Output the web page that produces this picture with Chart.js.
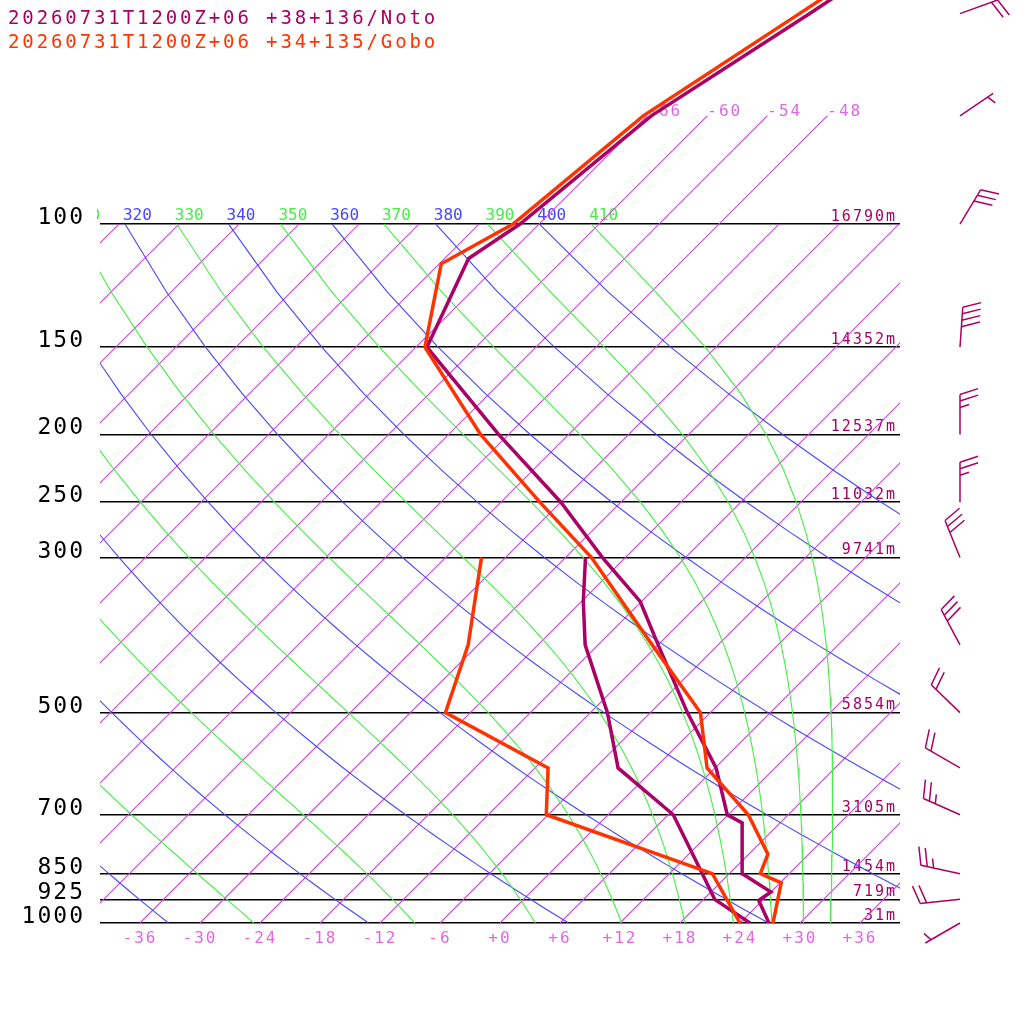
<!DOCTYPE html>
<html>
<head>
<meta charset="utf-8">
<script src="https://cdn.jsdelivr.net/npm/chart.js@4.4.1/dist/chart.umd.min.js"></script>
<style>
  html, body { margin: 0; padding: 0; background: #fff; }
  canvas { display: block; }
</style>
</head>
<body>
<canvas id="skewt" width="1024" height="1024"></canvas>
<script>
// header lines
const titles = ["20260731T1200Z+06 +38+136/Noto", "20260731T1200Z+06 +34+135/Gobo"];

// pressure levels drawn as horizontal lines, with heights (Noto)
const pressureLevels = [100, 150, 200, 250, 300, 500, 700, 850, 925, 1000];
const heightLabels = ["16790m", "14352m", "12537m", "11032m", "9741m", "5854m", "3105m", "1454m", "719m", "31m"];
const tempTicks = [-36, -30, -24, -18, -12, -6, 0, 6, 12, 18, 24, 30, 36];

// background lines of the diagram
const isotherms = [-108, -102, -96, -90, -84, -78, -72, -66, -60, -54, -48, -42, -36, -30, -24, -18, -12, -6, 0, 6, 12, 18, 24, 30, 36];
const isothermsHigh = [-66, -60, -54, -48];
const dryThetas = [240, 260, 280, 300, 320, 340, 360, 380, 400];
const moistThetas = [250, 270, 290, 310, 330, 350, 370, 390, 410];

// Noto sounding
const notoP  = [1000, 928, 903, 850, 719, 700, 600, 500, 400, 347, 300, 250, 200, 150, 112, 100, 70, 50, 30];
const notoT  = [26.9, 23.6, 24.0, 19.3, 14.2, 11.9, 6.1, -2.3, -12.0, -18.1, -26.3, -36.0, -49.0, -64.9, -69.6, -67.9, -65.6, -60.0, -52.0];
const notoDP = [1000, 925, 850, 700, 600, 500, 400, 347, 300];
const notoTd = [25.0, 19.1, 15.3, 6.5, -3.7, -10.3, -19.3, -23.8, -28.0];

// Gobo sounding
const goboP  = [1000, 876, 850, 797, 700, 600, 500, 400, 300, 250, 200, 150, 114, 100, 70, 50, 30];
const goboT  = [27.3, 24.1, 21.1, 19.9, 14.0, 5.2, -1.0, -12.6, -27.4, -38.1, -50.8, -65.1, -71.8, -68.6, -66.4, -61.0, -53.0];
const goboDP = [1000, 850, 700, 600, 500, 400, 300];
const goboTd = [24.0, 16.3, -6.2, -10.7, -26.5, -31.0, -38.4];

// Noto winds (direction deg, speed kt)
const windP   = [50, 70, 100, 150, 200, 250, 300, 400, 500, 600, 700, 850, 925, 1000];
const windDir = [70, 56, 31, 4, 0, 0, 338, 332, 314, 300, 294, 282, 264, 240];
const windKt  = [20, 5, 30, 40, 25, 25, 30, 30, 20, 20, 25, 25, 20, 5];

const NOTO = '#aa0066', GOBO = '#ff3300';
const ISO = '#cc44dd', ISO_TEXT = '#e066e6', DRY = '#4646ff', MOIST = '#44ee44';
const MONO = '"DejaVu Sans Mono", monospace';
const SKEW = 69.9;      // deg C per decade of pressure
const P_TOP = 47.8;
const KAPPA = 0.2857;

function skewX(t, p) {
    return t + SKEW * Math.log10(1000 / p);
}
function toPoints(ps, ts) {
    return ps.map((p, i) => ({ x: skewX(ts[i], p), y: p }));
}

// sampling of the guide curves
const guideP = [];
for (let p = 1000; p >= 100; p -= 25) guideP.push(p);

function dryLine(theta) {
    return guideP.map(p => ({ x: skewX(theta * Math.pow(p / 1000, KAPPA) - 273.15, p), y: p }));
}

function dTdp(p, T) {
    const Tc = T - 273.15;
    const es = 6.112 * Math.exp(17.67 * Tc / (Tc + 243.5));
    const rs = 0.622 * es / (p - es);
    const Rd = 287.04, cp = 1005.7, Lv = 2.501e6;
    const num = Rd * T + Lv * rs;
    const den = cp + (Lv * Lv * rs * 0.622) / (Rd * T * T);
    return num / den / p;
}

function moistLine(theta) {
    let T = theta * Math.pow(0.1, KAPPA);
    let p = 100;
    const dp = 5;
    const pts = [{ x: skewX(T - 273.15, p), y: p }];
    while (p < 1000) {
        const k1 = dTdp(p, T);
        const k2 = dTdp(p + dp / 2, T + k1 * dp / 2);
        const k3 = dTdp(p + dp / 2, T + k2 * dp / 2);
        const k4 = dTdp(p + dp, T + k3 * dp);
        T += dp * (k1 + 2 * k2 + 2 * k3 + k4) / 6;
        p += dp;
        if (p % 25 === 0) pts.push({ x: skewX(T - 273.15, p), y: p });
    }
    return pts;
}

const line = (data, color, width) => ({
    data, borderColor: color, borderWidth: width,
    showLine: true, pointRadius: 0, fill: false, tension: 0
});

const datasets = [
    line(toPoints(goboP, goboT), GOBO, 3.5),
    line(toPoints(notoP, notoT), NOTO, 3.5),
    line(toPoints(goboDP, goboTd), GOBO, 3.5),
    line(toPoints(notoDP, notoTd), NOTO, 3.5)
];
moistThetas.forEach(th => datasets.push(line(moistLine(th), MOIST, 1.1)));
dryThetas.forEach(th => datasets.push(line(dryLine(th), DRY, 1.1)));
isotherms.forEach(t => {
    const top = isothermsHigh.includes(t) ? 70 : 100;
    datasets.push(line([{ x: skewX(t, 1000), y: 1000 }, { x: skewX(t, top), y: top }], ISO, 1.1));
});

function drawBarb(ctx, x, y, dir, kt) {
    const a = dir * Math.PI / 180, b = (dir + 72) * Math.PI / 180;
    const sx = Math.sin(a), sy = -Math.cos(a);
    const bx = Math.sin(b), by = -Math.cos(b);
    const tx = x + sx * 40, ty = y + sy * 40;
    ctx.beginPath();
    ctx.moveTo(x, y);
    ctx.lineTo(tx, ty);
    const n = Math.round(kt / 5);
    const full = Math.floor(n / 2), half = n % 2;
    let d = full === 0 ? 6.5 : 0;
    for (let i = 0; i < full; i++, d += 6.5) {
        ctx.moveTo(tx - sx * d, ty - sy * d);
        ctx.lineTo(tx - sx * d + bx * 19, ty - sy * d + by * 19);
    }
    if (half) {
        ctx.moveTo(tx - sx * d, ty - sy * d);
        ctx.lineTo(tx - sx * d + bx * 9.5, ty - sy * d + by * 9.5);
    }
    ctx.stroke();
}

const skewDecor = {
    id: 'skewDecor',
    beforeDraw(chart) {
        chart.ctx.letterSpacing = '2px';
    },
    beforeDatasetsDraw(chart) {
        const { ctx, chartArea, scales: { x, y } } = chart;
        const y100 = y.getPixelForValue(100);
        ctx.save();
        ctx.beginPath();
        ctx.rect(chartArea.left - 3, 0, chartArea.right, chart.height);
        ctx.clip();
        ctx.font = '16px ' + MONO;
        ctx.letterSpacing = '0px';
        ctx.textAlign = 'left';
        ctx.textBaseline = 'alphabetic';
        const label = (th, color) => {
            const px = x.getPixelForValue(skewX(th * Math.pow(0.1, KAPPA) - 273.15, 100));
            if (px > chartArea.right) return;
            ctx.fillStyle = color;
            ctx.fillText(String(th), px - 2, y100 - 4);
        };
        dryThetas.forEach(th => label(th, DRY));
        moistThetas.forEach(th => label(th, MOIST));
        ctx.restore();

        ctx.save();
        ctx.font = '16px ' + MONO;
        ctx.letterSpacing = '2px';
        ctx.fillStyle = ISO_TEXT;
        ctx.textAlign = 'left';
        ctx.textBaseline = 'alphabetic';
        isothermsHigh.forEach(t => {
            ctx.fillText(String(t), x.getPixelForValue(skewX(t, 70)), y.getPixelForValue(70));
        });
        ctx.restore();
    },
    afterDraw(chart) {
        const { ctx, chartArea, scales: { y } } = chart;
        ctx.save();
        ctx.font = '19px ' + MONO;
        ctx.letterSpacing = '2.9px';
        ctx.textAlign = 'left';
        ctx.textBaseline = 'alphabetic';
        ctx.fillStyle = NOTO;
        ctx.fillText(titles[0], 8, 24);
        ctx.fillStyle = GOBO;
        ctx.fillText(titles[1], 8, 48);

        ctx.strokeStyle = NOTO;
        ctx.lineWidth = 1.5;
        const bx = chartArea.right + 60;
        windP.forEach((p, i) => drawBarb(ctx, bx, y.getPixelForValue(p), windDir[i], windKt[i]));
        ctx.restore();
    }
};

const noPad = s => { s.paddingTop = 0; s.paddingBottom = 0; s.paddingLeft = 0; s.paddingRight = 0; };

new Chart(document.getElementById('skewt').getContext('2d'), {
    type: 'scatter',
    data: { datasets },
    options: {
        responsive: false,
        animation: false,
        devicePixelRatio: 1,
        events: [],
        layout: { padding: 0 },
        plugins: { legend: { display: false }, tooltip: { enabled: false } },
        scales: {
            x: {
                type: 'linear', position: 'bottom', min: -40, max: 40,
                afterBuildTicks: s => { s.ticks = tempTicks.map(v => ({ value: v })); },
                afterFit: s => { s.height = 101; noPad(s); },
                grid: { display: false, drawTicks: false },
                border: { display: false },
                ticks: {
                    autoSkip: false, maxRotation: 0, padding: 6, color: ISO_TEXT,
                    font: { family: MONO, size: 16 },
                    callback: v => (v >= 0 ? '+' : '') + v
                }
            },
            y: {
                type: 'logarithmic', position: 'left', reverse: true, min: P_TOP, max: 1000,
                afterBuildTicks: s => { s.ticks = pressureLevels.map(v => ({ value: v })); },
                afterFit: s => { s.width = 100; noPad(s); },
                grid: { color: '#000', lineWidth: 1.5, drawTicks: false },
                border: { display: false },
                ticks: {
                    autoSkip: false, padding: 15, labelOffset: -6, color: '#000',
                    font: { family: MONO, size: 23 },
                    callback: v => String(v)
                }
            },
            yh: {
                type: 'logarithmic', position: 'right', reverse: true, min: P_TOP, max: 1000,
                afterBuildTicks: s => { s.ticks = pressureLevels.map(v => ({ value: v })); },
                afterFit: s => { s.width = 124; noPad(s); },
                grid: { display: false, drawTicks: false },
                border: { display: false },
                ticks: {
                    autoSkip: false, mirror: true, padding: -3, labelOffset: -7, color: NOTO,
                    font: { family: MONO, size: 15 },
                    callback: v => heightLabels[pressureLevels.indexOf(v)]
                }
            }
        }
    },
    plugins: [skewDecor]
});
</script>
</body>
</html>
